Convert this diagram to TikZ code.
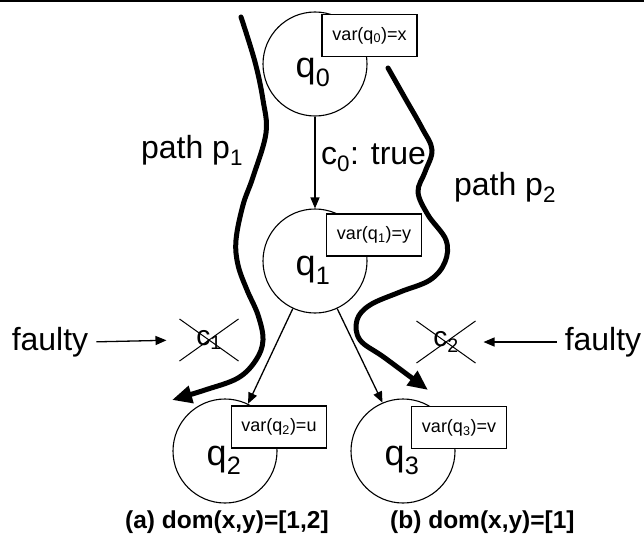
\documentclass[tikz,border=0pt]{standalone}
\usepackage{fontspec}
\setmainfont{Liberation Sans}
\usetikzlibrary{arrows.meta,shapes.misc}
\begin{document}
\begin{tikzpicture}[x=1pt,y=-1pt,
  state/.style={circle,draw,line width=1.1pt,minimum size=104pt,inner sep=0pt},
  statename/.style={font=\fontsize{36}{40}\selectfont,inner sep=0pt},
  varbox/.style={draw,line width=1.1pt,fill=white,minimum width=95pt,minimum height=42pt,inner sep=0pt,font=\fontsize{18}{20}\selectfont},
  edge/.style={line width=1.3pt,-{Triangle[length=11pt,width=9pt]}},
  route/.style={line width=5pt,line cap=round,line join=round,-{Triangle[length=20pt,width=17pt]}},
  bigtext/.style={font=\fontsize{32}{36}\selectfont,inner sep=0pt},
  struck/.style={cross out,draw,line width=1pt,inner sep=0pt,minimum width=58pt,minimum height=41pt,font=\fontsize{28}{30}\selectfont},
  caption/.style={font=\bfseries\fontsize{24.5}{28}\selectfont,inner sep=0pt}]
\useasboundingbox (0,0) rectangle (644,543);

% rule along the top edge
\draw[line width=2.5pt] (0,1) -- (644,1);

% states
\node[state] (q0) at (315,64) {};
\node[state] (q1) at (315,261) {};
\node[state] (q2) at (225,451) {};
\node[state] (q3) at (403,451) {};

\node[statename] (n0) at (313,72) {q\textsubscript{0}};
\node[statename] (n1) at (313,270) {q\textsubscript{1}};
\node[statename] (n2) at (224,460) {q\textsubscript{2}};
\node[statename] (n3) at (402,460) {q\textsubscript{3}};

% variable boxes
\node[varbox] (v0) at (369.5,35.5) {var(q\textsubscript{0})=x};
\node[varbox] (v1) at (374,235) {var(q\textsubscript{1})=y};
\node[varbox] (v2) at (279,427) {var(q\textsubscript{2})=u};
\node[varbox] (v3) at (459,427.5) {var(q\textsubscript{3})=v};

% transitions
\draw[edge] (q0) -- (q1);
\node[bigtext,anchor=west] (c0) at (321,158) {c\textsubscript{0}: true};
\draw[edge] (q1.245) -- (q2.64);
\draw[edge] (q1.295) -- (q3.113);

% faulty transitions
\node[struck] (c1) at (209,340) {c\textsubscript{1}};
\node[struck] (c2) at (446,342) {c\textsubscript{2}};
\node[bigtext] (f1) at (50,342) {faulty};
\node[bigtext] (f2) at (603,342) {faulty};
\draw[edge,shorten <=8pt,shorten >=13pt] (f1.east) -- (c1.west);
\draw[edge,shorten <=8pt,shorten >=8pt] (f2.west) -- (c2.east);

% paths
\draw[route] plot[smooth,tension=0.6] coordinates {(241,17) (255,62) (263,100) (266,133) (253,177) (243,205) (236,240) (238,265) (247,290) (258,315) (263,340) (256,360) (238,378) (205,390) (172,400)};
\draw[route] plot[smooth,tension=0.6] coordinates {(388,68) (405,98) (422,128) (432,150) (425,172) (418,192) (428,215) (446,240) (445,262) (430,280) (400,292) (370,305) (357,320) (360,340) (385,358) (428,390)};
\node[bigtext] (p1) at (192,150) {path p\textsubscript{1}};
\node[bigtext] (p2) at (505,187) {path p\textsubscript{2}};

% captions
\node[caption,anchor=west] (ca) at (125,522) {(a) dom(x,y)=[1,2]};
\node[caption,anchor=west] (cb) at (390,522) {(b) dom(x,y)=[1]};
\end{tikzpicture}
\end{document}
